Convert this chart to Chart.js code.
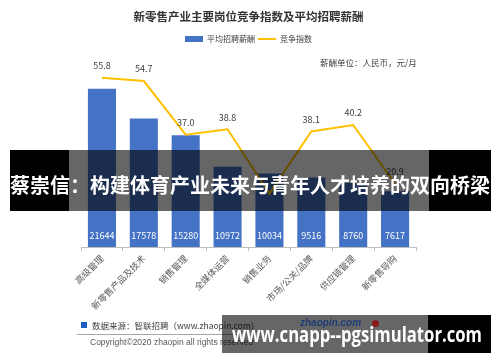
<!DOCTYPE html>
<html>
<head>
<meta charset="utf-8">
<script src="https://cdn.jsdelivr.net/npm/chart.js@4/dist/chart.umd.min.js"></script>
<style>
  html, body { margin: 0; padding: 0; background: #fff; }
  #wrap { position: relative; width: 500px; height: 362px; overflow: hidden; font-family: "Noto Sans CJK SC", "Noto Sans", sans-serif; }
  #chart { position: absolute; left: 0; top: 0; }
  .abs { position: absolute; white-space: nowrap; }
  #unit { left: 320px; top: 56px; font-size: 8.5px; color: #404040; }
  #banner { left: 10px; top: 150px; width: 481px; height: 61px; }
  #banner .mid { position: absolute; left: 59px; top: 0; width: 360px; height: 61px; background: rgba(0,0,0,0.6); }
  #banner .l { position: absolute; left: 0; top: 0; width: 59px; height: 61px; background: #000; }
  #banner .r { position: absolute; left: 419px; top: 0; width: 62px; height: 61px; background: #000; }
  #banner .txt { position: absolute; left: 0; top: 22px; font-size: 20px; font-weight: bold; color: #fff; line-height: 26px; }
  #src { left: 92px; top: 319px; font-size: 8.5px; color: #404040; }
  #srcbox { left: 81px; top: 322px; width: 6px; height: 6px; background: #1f5fbf; }
  #rule { left: 77px; top: 334px; width: 160px; height: 1px; background: #a6a6a6; }
  #copy { left: 90px; top: 337px; font-size: 8.5px; color: #595959; font-family: "Liberation Sans", sans-serif; }
  #wm { left: 222px; top: 315px; width: 269px; height: 38px; }
  #wm .mid { position: absolute; left: 0; top: 0; width: 206px; height: 38px; background: rgba(0,0,0,0.6); }
  #wm .r { position: absolute; left: 206px; top: 0; width: 63px; height: 38px; background: #000; }
  #wm .logo { position: absolute; left: 78px; top: 2px; font-size: 10px; font-style: italic; font-weight: bold; color: #1d3d78; font-family: "Liberation Sans", sans-serif; }
  #wm .dot { position: absolute; left: 150px; top: 5px; width: 7px; height: 7px; border-radius: 50%; background: #8a1a1a; }
  #wm .txt { position: absolute; left: 10px; top: 6px; font-size: 21px; font-weight: bold; color: #fff; font-family: "Open Sans", "DejaVu Sans", sans-serif; line-height: 26px; transform-origin: 0 50%; }
</style>
</head>
<body>
<div id="wrap">
  <canvas id="chart" width="500" height="362"></canvas>
  <div class="abs" id="unit">薪酬单位：人民币，元/月</div>
  <div class="abs" id="banner">
    <div class="l"></div><div class="mid"></div><div class="r"></div>
    <div class="txt">蔡崇信：构建体育产业未来与青年人才培养的双向桥梁</div>
  </div>
  <div class="abs" id="srcbox"></div>
  <div class="abs" id="src">数据来源：智联招聘（www.zhaopin.com）</div>
  <div class="abs" id="rule"></div>
  <div class="abs" id="copy">Copyright©2020 zhaopin all rights reserved</div>
  <div class="abs" id="wm">
    <div class="mid"></div><div class="r"></div>
    <div class="logo">zhaopin.com</div>
    <div class="dot"></div>
    <div class="txt" id="wmtxt">www.cnapp--pgsimulator.com</div>
  </div>
</div>
<script>
const categories = ['高级管理', '新零售产品及技术', '销售管理', '全媒体运营', '销售业务', '市场/公关/品牌', '供应链管理', '新零售导购'];
const salaries = [21644, 17578, 15280, 10972, 10034, 9516, 8760, 7617];
const competition = [55.8, 54.7, 37.0, 38.8, 17.6, 38.1, 40.2, 20.9];

const barColor = '#4472C4';
const lineColor = '#FFC000';

// squeeze the watermark text into its box
const wmtxt = document.getElementById('wmtxt');
wmtxt.style.transform = 'scaleX(' + (250 / wmtxt.getBoundingClientRect().width) + ')';

function swatch(w, h, color) {
  const c = document.createElement('canvas');
  c.width = w;
  c.height = h;
  const g = c.getContext('2d');
  g.fillStyle = color;
  g.fillRect(0, 0, w, h);
  return c;
}

// value labels: salary inside bar bottom, index above line point
const valueLabels = {
  id: 'valueLabels',
  afterDatasetsDraw(chart) {
    const ctx = chart.ctx;
    ctx.save();
    ctx.font = '9px "Noto Sans CJK SC", sans-serif';
    ctx.textAlign = 'center';
    ctx.textBaseline = 'middle';
    chart.getDatasetMeta(0).data.forEach((bar, i) => {
      ctx.fillStyle = '#ffffff';
      ctx.fillText(salaries[i], bar.x, bar.base - 11);
    });
    chart.getDatasetMeta(1).data.forEach((pt, i) => {
      ctx.fillStyle = '#404040';
      ctx.fillText(competition[i].toFixed(1), pt.x, pt.y - 12);
    });
    ctx.restore();
  }
};

new Chart(document.getElementById('chart'), {
  data: {
    labels: categories,
    datasets: [{
      type: 'bar',
      label: '平均招聘薪酬',
      data: salaries,
      backgroundColor: barColor,
      barPercentage: 0.67,
      categoryPercentage: 1,
      yAxisID: 'y',
      order: 1,
      pointStyle: swatch(18, 6, barColor)
    }, {
      type: 'line',
      label: '竞争指数',
      data: competition,
      borderColor: lineColor,
      backgroundColor: lineColor,
      borderWidth: 2,
      pointRadius: 0,
      tension: 0,
      yAxisID: 'y1',
      order: 0,
      pointStyle: swatch(18, 2, lineColor)
    }]
  },
  options: {
    responsive: false,
    animation: false,
    layout: { padding: { left: 81, right: 84, top: 0, bottom: 0 } },
    plugins: {
      title: {
        display: true,
        text: '新零售产业主要岗位竞争指数及平均招聘薪酬',
        color: '#333333',
        font: { family: '"Noto Sans CJK SC", sans-serif', size: 11.5, weight: 'bold' },
        padding: { top: 10, bottom: 8 }
      },
      legend: {
        display: true,
        labels: {
          usePointStyle: true,
          pointStyleWidth: 18,
          boxHeight: 6,
          padding: 3,
          color: '#404040',
          font: { family: '"Noto Sans CJK SC", sans-serif', size: 8 },
          sort: (a, b) => a.datasetIndex - b.datasetIndex
        }
      },
      tooltip: { enabled: false }
    },
    scales: {
      x: {
        offset: true,
        grid: { display: true, drawOnChartArea: false, drawTicks: true, tickLength: 4, color: '#bfbfbf', offset: true },
        border: { display: true, color: '#bfbfbf' },
        ticks: {
          autoSkip: false,
          minRotation: 45,
          maxRotation: 45,
          color: '#595959',
          padding: 2,
          font: { family: '"Noto Sans CJK SC", sans-serif', size: 9 }
        },
        afterFit(scale) {
          scale.height = 115;
          scale.paddingLeft = 0;
          scale.paddingRight = 0;
        }
      },
      y: {
        display: false,
        min: 0,
        max: 26550
      },
      y1: {
        display: false,
        min: 0,
        max: 64
      }
    }
  },
  plugins: [valueLabels]
});
</script>
</body>
</html>
